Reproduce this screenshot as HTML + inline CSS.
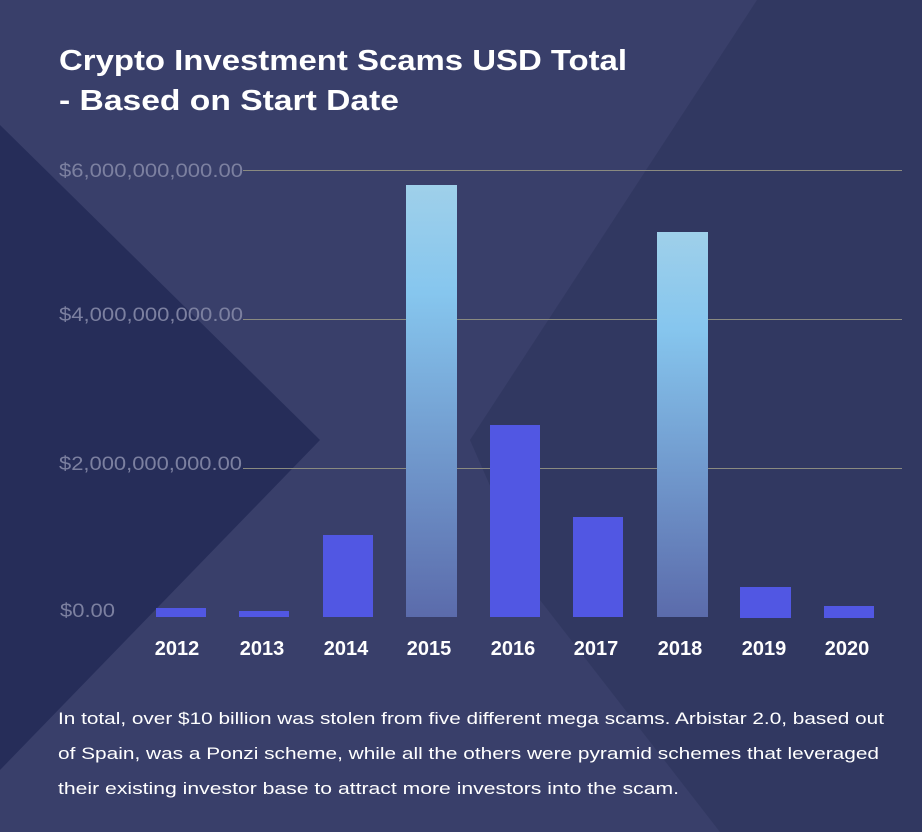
<!DOCTYPE html>
<html><head><style>
body{margin:0;width:922px;height:832px;overflow:hidden;font-family:"Liberation Sans",sans-serif;}
</style></head><body>
<svg width="922" height="832" xmlns="http://www.w3.org/2000/svg">
<defs>
<linearGradient id="g" x1="0" y1="0" x2="0" y2="1">
<stop offset="0" stop-color="#9fd0ea"/>
<stop offset="0.25" stop-color="#86c6ee"/>
<stop offset="1" stop-color="#5b6bab"/>
</linearGradient>
</defs>
<rect width="922" height="832" fill="#393f6a"/>
<polygon points="757,0 922,0 922,832 720,832 540,600 470,440" fill="#30375f" opacity="0.85"/>
<polygon points="0,125 320,440 0,770" fill="#262d59"/>
<text x="59" y="70" fill="#fff" font-size="29" font-weight="bold" textLength="568" lengthAdjust="spacingAndGlyphs">Crypto Investment Scams USD Total</text>
<text x="59" y="110" fill="#fff" font-size="29" font-weight="bold" textLength="340" lengthAdjust="spacingAndGlyphs">- Based on Start Date</text>
<g stroke="#8a8a80" stroke-width="1">
<line x1="243" y1="170.5" x2="902" y2="170.5"/>
<line x1="243" y1="319.5" x2="902" y2="319.5"/>
<line x1="243" y1="468.5" x2="902" y2="468.5"/>
</g>
<g fill="#7c80a0" font-size="19">
<text x="59" y="177" textLength="184" lengthAdjust="spacingAndGlyphs">$6,000,000,000.00</text>
<text x="59" y="321" textLength="184" lengthAdjust="spacingAndGlyphs">$4,000,000,000.00</text>
<text x="59" y="470" textLength="183" lengthAdjust="spacingAndGlyphs">$2,000,000,000.00</text>
<text x="60" y="617" textLength="55" lengthAdjust="spacingAndGlyphs">$0.00</text>
</g>
<g fill="#5157e3">
<rect x="156" y="608" width="50" height="9"/>
<rect x="239" y="611" width="50" height="6"/>
<rect x="323" y="535" width="50" height="82"/>
<rect x="490" y="425" width="50" height="192"/>
<rect x="573" y="517" width="50" height="100"/>
<rect x="740" y="587" width="51" height="31"/>
<rect x="824" y="606" width="50" height="12"/>
</g>
<rect x="406" y="185" width="51" height="432" fill="url(#g)"/>
<rect x="657" y="232" width="51" height="385" fill="url(#g)"/>
<g fill="#fff" font-size="20" font-weight="bold" text-anchor="middle">
<text x="177" y="655">2012</text><text x="262" y="655">2013</text><text x="346" y="655">2014</text>
<text x="429" y="655">2015</text><text x="513" y="655">2016</text><text x="596" y="655">2017</text>
<text x="680" y="655">2018</text><text x="764" y="655">2019</text><text x="847" y="655">2020</text>
</g>
<g fill="#fff" font-size="17">
<text x="58" y="724" textLength="826" lengthAdjust="spacingAndGlyphs">In total, over $10 billion was stolen from five different mega scams. Arbistar 2.0, based out</text>
<text x="58" y="759" textLength="821" lengthAdjust="spacingAndGlyphs">of Spain, was a Ponzi scheme, while all the others were pyramid schemes that leveraged</text>
<text x="58" y="794" textLength="621" lengthAdjust="spacingAndGlyphs">their existing investor base to attract more investors into the scam.</text>
</g>
</svg>
</body></html>
